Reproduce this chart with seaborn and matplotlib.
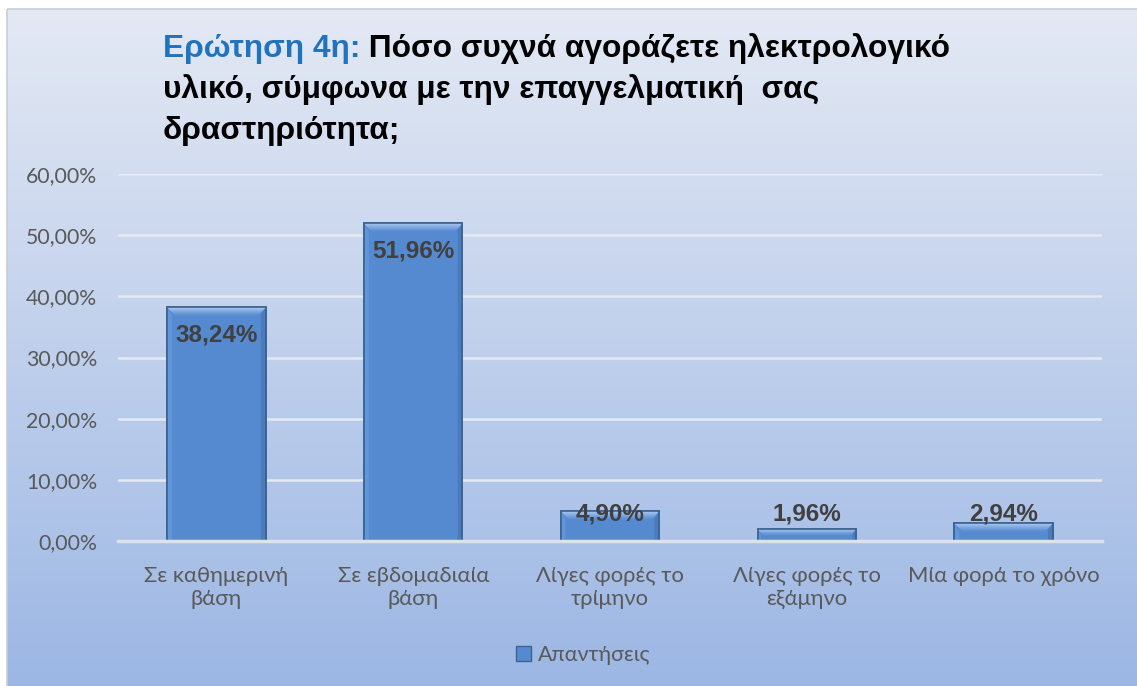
import numpy as np
import pandas as pd
import matplotlib
matplotlib.use("Agg")
import matplotlib.pyplot as plt
from matplotlib.patches import Patch, Polygon, Rectangle
from matplotlib.ticker import FuncFormatter, MultipleLocator
from matplotlib.colors import to_rgb
import seaborn as sns

# Survey answers (percent of respondents)
categories = ["Σε καθημερινή βάση", "Σε εβδομαδιαία βάση", "Λίγες φορές το τρίμηνο",
              "Λίγες φορές το εξάμηνο", "Μία φορά το χρόνο"]
tick_labels = ["Σε καθημερινή\nβάση", "Σε εβδομαδιαία\nβάση", "Λίγες φορές το\nτρίμηνο",
               "Λίγες φορές το\nεξάμηνο", "Μία φορά το χρόνο"]
values = [38.24, 51.96, 4.90, 1.96, 2.94]
series_name = "Απαντήσεις"

title_lead = "Ερώτηση 4η:"
title_lines = [" Πόσο συχνά αγοράζετε ηλεκτρολογικό",
               "υλικό, σύμφωνα με την επαγγελματική  σας",
               "δραστηριότητα;"]

BAR = "#568AD0"
BAR_EDGE = "#3B6293"
BEVEL_TOP = "#AACAF2"
TICK_COLOR = "#595959"
LABEL_COLOR = "#404040"

sns.set_theme(style="white")
plt.rcParams["font.family"] = ["Lato", "DejaVu Sans"]

W, H = 1137, 686
fig = plt.figure(figsize=(W / 100, H / 100), dpi=100)
fig.patch.set_facecolor("white")

# Gradient backdrop for the chart area
bg = fig.add_axes([0, 0, 1, 1], zorder=-10)
bg.set_xlim(0, W)
bg.set_ylim(H, 0)
bg.axis("off")
top_c = np.array([228, 233, 244]) / 255
bot_c = np.array([156, 183, 228]) / 255
t = np.linspace(0, 1, 256)[:, None, None]
grad = top_c * (1 - t) + bot_c * t
grad = np.repeat(grad, 2, axis=1)
bg.imshow(grad, extent=(7, W, H, 9), aspect="auto", interpolation="bilinear")
bg.add_patch(Rectangle((6.5, 8.5), W, H, fill=False, edgecolor="#C9CDD4", linewidth=1.2))

ax = fig.add_axes([118 / W, 1 - 541 / H, (1102 - 118) / W, (541 - 174) / H])
ax.set_facecolor("none")

df = pd.DataFrame({"category": categories, "value": values})
sns.barplot(data=df, x="category", y="value", color=BAR, saturation=1, width=0.5,
            edgecolor=BAR_EDGE, linewidth=1.2, ax=ax, zorder=3)

ax.set_ylim(0, 60)
ax.set_xlim(-0.5, len(categories) - 0.5)
ax.yaxis.set_major_locator(MultipleLocator(10))
ax.yaxis.set_major_formatter(FuncFormatter(lambda v, _: f"{v:.2f}%".replace(".", ",")))
ax.grid(axis="y", color="#E6E9EF", linewidth=1.8, zorder=0)
ax.set_axisbelow(True)
for s in ["top", "right", "left"]:
    ax.spines[s].set_visible(False)
ax.spines["bottom"].set_color("#DCE1EA")
ax.spines["bottom"].set_linewidth(2.5)
ax.spines["bottom"].set_zorder(4)
ax.set_xlabel("")
ax.set_ylabel("")
ax.set_xticks(range(len(tick_labels)))
ax.set_xticklabels(tick_labels, fontsize=15.8, color=TICK_COLOR, linespacing=1.2)
ax.tick_params(axis="x", length=0, pad=18)
ax.tick_params(axis="y", length=0, pad=15, labelsize=15.3, labelcolor=TICK_COLOR)

# Bevelled top on each bar, derived from the bar geometry
px_per_unit = (541 - 174) / 60
px_per_cat = (1102 - 118) / len(categories)
c_top, c_bar = np.array(to_rgb(BEVEL_TOP)), np.array(to_rgb(BAR))
n_bands = 8
for p in list(ax.patches):
    x0, w, h = p.get_x(), p.get_width(), p.get_height()
    dy = min(8 / px_per_unit, h * 0.5)
    dx = dy * px_per_unit / px_per_cat
    x1 = x0 + w
    # side facets
    ax.add_patch(Polygon([(x1, h), (x1 - dx * 0.6, h - dy), (x1 - dx * 0.6, 0), (x1, 0)],
                         closed=True, facecolor="#4A7BBD", edgecolor="none", zorder=3.4))
    ax.add_patch(Polygon([(x0, h), (x0 + dx * 0.6, h - dy), (x0 + dx * 0.6, 0), (x0, 0)],
                         closed=True, facecolor="#6096D8", edgecolor="none", zorder=3.4))
    # top facet as graded bands
    for k in range(n_bands):
        f0, f1 = k / n_bands, (k + 1) / n_bands
        col = c_top * (1 - f0) + c_bar * f0
        ax.add_patch(Polygon([(x0 + dx * f0, h - dy * f0), (x1 - dx * f0, h - dy * f0),
                              (x1 - dx * f1, h - dy * f1), (x0 + dx * f1, h - dy * f1)],
                             closed=True, facecolor=col, edgecolor=col, linewidth=0.3,
                             zorder=3.5))
    ax.add_patch(Rectangle((x0, 0), w, h, fill=False, edgecolor=BAR_EDGE,
                           linewidth=1.2, zorder=3.6))

# Value labels at the inside end of each bar
for i, v in enumerate(values):
    y = max(v - 28 / px_per_unit, 27 / px_per_unit)
    ax.text(i, y, f"{v:.2f}%".replace(".", ","), ha="center", va="center",
            fontsize=17.5, fontweight="bold", color=LABEL_COLOR,
            family=["Liberation Sans", "DejaVu Sans"], zorder=5)

# Two-colour title
tfont = dict(fontsize=22.8, fontweight="bold", family=["Liberation Sans", "DejaVu Sans"])
lead = fig.text(163 / W, 1 - 57 / H, title_lead, color="#1F74BF", va="baseline", **tfont)
ax.annotate(title_lines[0], xy=(1, 0), xycoords=lead, va="bottom", ha="left",
            color="black", annotation_clip=False, **tfont)
for k, line in enumerate(title_lines[1:], start=1):
    fig.text(163 / W, 1 - (57 + 41 * k) / H, line, color="black", va="baseline", **tfont)

fig.legend(handles=[Patch(facecolor=BAR, edgecolor=BAR_EDGE)], labels=[series_name],
           loc="center", bbox_to_anchor=(583 / W, 1 - 655 / H), frameon=False,
           handlelength=0.7, handleheight=0.7, handletextpad=0.3, fontsize=15.5,
           labelcolor=TICK_COLOR)

fig.savefig("out.png", dpi=100)
